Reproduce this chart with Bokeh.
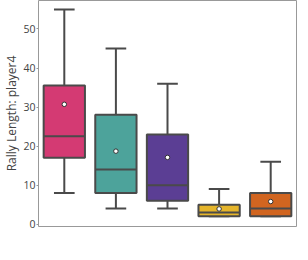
import numpy as np
from bokeh.plotting import figure
from bokeh.models import Range1d, FixedTicker, ColumnDataSource, LabelSet
from bokeh.embed import file_html
from bokeh.resources import INLINE

categories = ["i-S2R", "S2R+FT\n[24]", "S2R-Oracle\n+FT", "S2R-Oracle", "S2R"]
lower = [8, 4, 4, 2, 2]
q1 = [17, 8, 6, 2, 2]
median = [22.5, 14, 10, 3, 4]
q3 = [35.5, 28, 23, 5, 8]
upper = [55, 45, 36, 9, 16]
mean = [30.7, 18.7, 17.1, 3.9, 5.8]
colors = ["#d43a73", "#4da39b", "#5b3e94", "#e5b52b", "#d16520"]

Y_MIN, Y_MAX = -0.6, 57.3

xs = np.arange(len(categories))
src = ColumnDataSource(dict(x=xs, lower=lower, q1=q1, med=median, q3=q3,
                            upper=upper, mean=mean, color=colors,
                            cl=xs - 0.2, cr=xs + 0.2, bl=xs - 0.4, br=xs + 0.4))
lab_src = ColumnDataSource(dict(x=xs, y=[Y_MIN] * len(xs), text=categories))

p = figure(width=300, height=252, output_backend="svg", toolbar_location=None,
           x_range=Range1d(-0.5, 4.5), y_range=Range1d(Y_MIN, Y_MAX),
           min_border_left=0, min_border_right=4, min_border_top=0, min_border_bottom=26)

lc = "#4a4a4a"
lw = 2
p.segment(x0="x", y0="q3", x1="x", y1="upper", source=src, line_color=lc, line_width=lw)
p.segment(x0="x", y0="lower", x1="x", y1="q1", source=src, line_color=lc, line_width=lw)
p.segment(x0="cl", y0="upper", x1="cr", y1="upper", source=src, line_color=lc, line_width=lw)
p.segment(x0="cl", y0="lower", x1="cr", y1="lower", source=src, line_color=lc, line_width=lw)
p.vbar(x="x", width=0.8, bottom="q1", top="q3", source=src, fill_color="color",
       line_color=lc, line_width=lw)
p.segment(x0="bl", y0="med", x1="br", y1="med", source=src, line_color=lc, line_width=lw)
p.scatter(x="x", y="mean", source=src, marker="circle", size=4.5, fill_color="white",
          line_color="#333333", line_width=1)

p.xgrid.visible = False
p.ygrid.visible = False
p.outline_line_color = "#999999"
p.outline_line_width = 1

p.xaxis.visible = False
labels = LabelSet(x="x", y="y", text="text", source=lab_src, y_offset=-3,
                  text_align="center", text_baseline="top", text_font="Open Sans",
                  text_font_size="9.5px", text_color="#444444", text_line_height=1.35)
p.add_layout(labels)

p.yaxis.ticker = FixedTicker(ticks=[0, 10, 20, 30, 40, 50])
p.yaxis.axis_line_color = None
p.yaxis.major_tick_line_color = "#999999"
p.yaxis.major_tick_out = 2
p.yaxis.major_tick_in = 0
p.yaxis.minor_tick_line_color = None
p.yaxis.major_label_standoff = 1
p.yaxis.axis_label = "Rally Length: player4"
p.yaxis.axis_label_standoff = 0
p.yaxis.major_label_text_font = "Open Sans"
p.yaxis.major_label_text_color = "#444444"
p.yaxis.major_label_text_font_size = "10.5px"
p.yaxis.axis_label_text_font = "Open Sans"
p.yaxis.axis_label_text_font_style = "normal"
p.yaxis.axis_label_text_color = "#444444"
p.yaxis.axis_label_text_font_size = "12px"

open("out.html", "w").write(file_html(p, INLINE))
